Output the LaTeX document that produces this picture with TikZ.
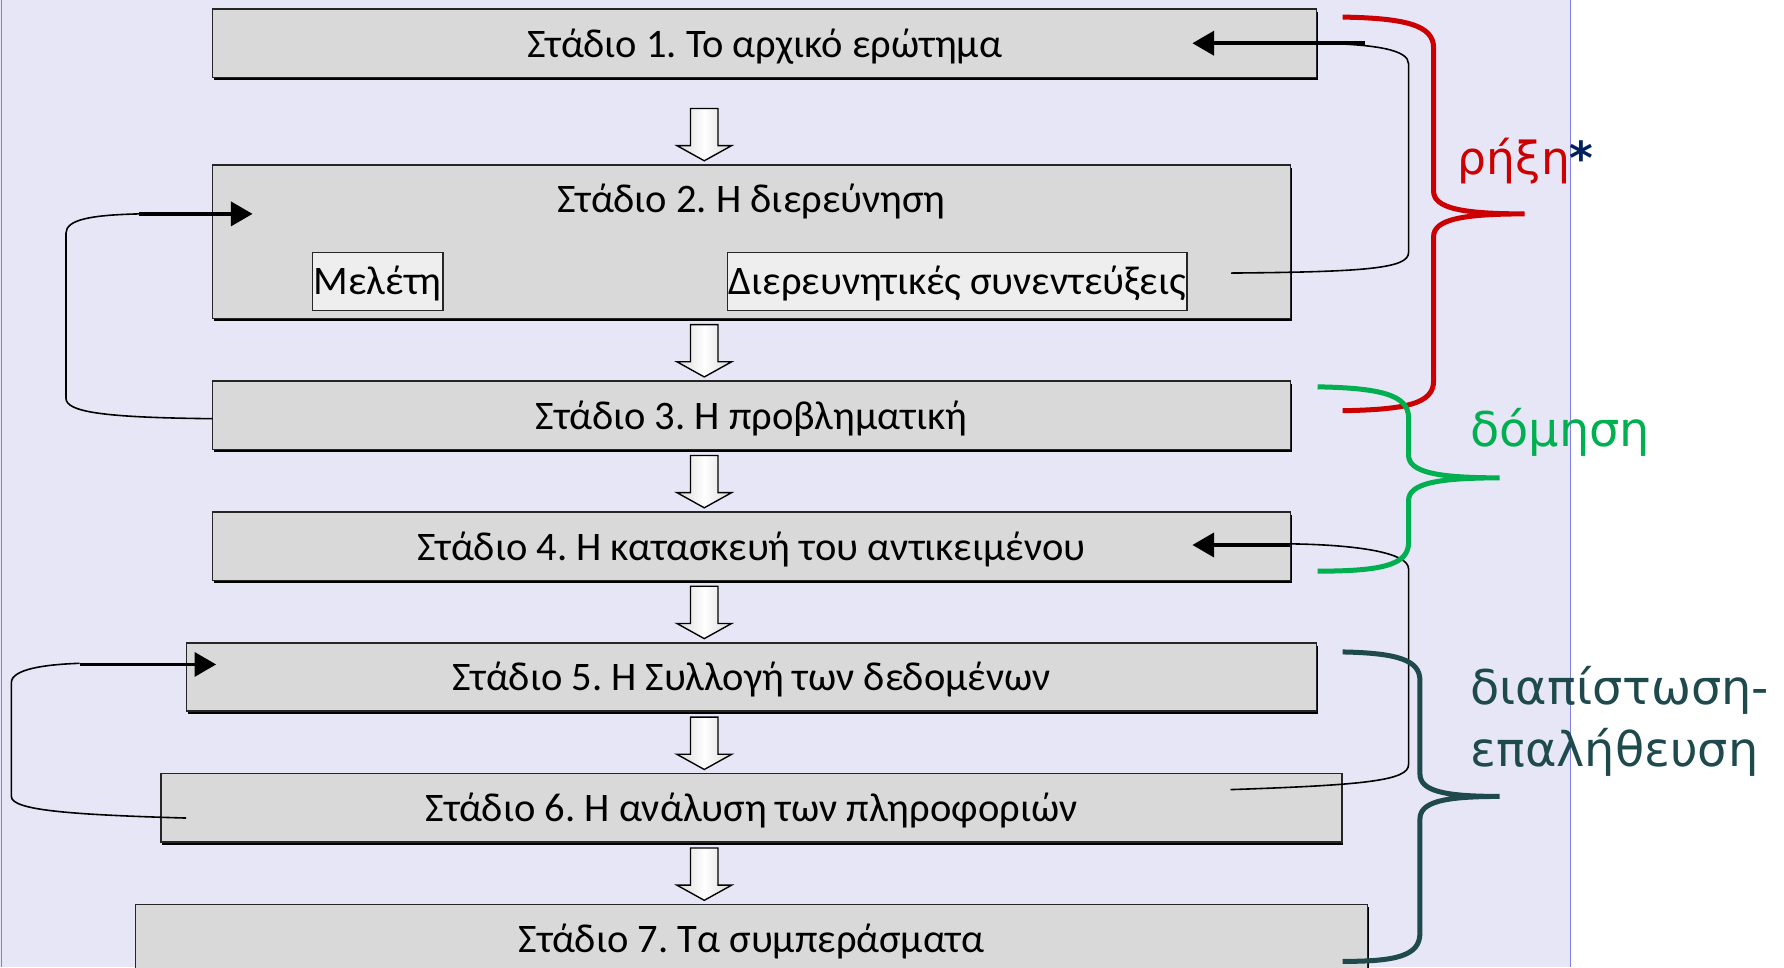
\documentclass[tikz,border=0pt]{standalone}
\usepackage{fontspec}
\setmainfont{Carlito}
\newfontfamily\labelfont{DejaVu Sans}
\usetikzlibrary{positioning,shapes.arrows,shadows,calc,arrows.meta}
\frenchspacing

\definecolor{lavbg}{RGB}{230,230,246}
\definecolor{lavline}{RGB}{128,128,224}
\definecolor{boxgray}{RGB}{217,217,217}
\definecolor{subgray}{RGB}{238,238,238}
\definecolor{rhxred}{RGB}{204,0,0}
\definecolor{domgreen}{RGB}{0,176,80}
\definecolor{diateal}{RGB}{30,74,77}
\definecolor{starblue}{RGB}{0,32,96}

\begin{document}
\begin{tikzpicture}[x=0.5pt,y=-0.5pt,node distance=27.5pt,
    every node/.style={font=\fontsize{17.8}{20}\selectfont},
    stage/.style={draw=black!85,line width=0.6pt,fill=boxgray,minimum height=30pt,inner sep=0pt,outer sep=0pt,
      text height=15pt,text depth=2.8pt,
      drop shadow={shadow xshift=0.6pt,shadow yshift=-1.2pt,fill=black,opacity=1}},
    subbox/.style={draw=black!85,line width=0.6pt,fill=subgray,minimum height=25.5pt,inner xsep=0.6pt,inner ysep=1pt,
      text height=14pt,text depth=3pt},
    downarr/.style={single arrow,draw=black,line width=0.6pt,shape border rotate=270,
      minimum height=23pt,inner sep=5.75pt,single arrow head extend=6pt,
      single arrow head indent=0pt,single arrow tip angle=122,left color=gray!30,right color=gray!30,
      middle color=white,anchor=tip},
    backline/.style={line width=0.7pt},
    feed/.style={line width=1.7pt,-{Triangle[length=9.5pt,width=10.5pt]}},
    bracepath/.style={line width=2.2pt},
    lbl/.style={font=\labelfont\fontsize{21}{27.5}\selectfont,anchor=west,align=left,inner sep=0pt}]

  % background
  \useasboundingbox (0,0) rectangle (1568,850);
  \fill[lavbg] (0,0) rectangle (1380,850);
  \draw[lavline,line width=0.5pt] (1,0) -- (1,850);
  \draw[lavline,line width=0.5pt] (1380,0) -- (1380,850);

  % stages
  \node[stage,minimum width=485pt] (b1) at (672,38) {Στάδιο 1. Το αρχικό ερώτημα};
  \node[stage,minimum width=473.5pt,minimum height=67.5pt,below=38.5pt of b1,xshift=-5.75pt] (b2) {};
  \node[text height=15pt,text depth=2.8pt,inner sep=0pt] (b2t) at ([yshift=-15pt]b2.north) {Στάδιο 2. Η διερεύνηση};
  \node[subbox] (mel) at ($(b2.south west)+(72.5pt,16.25pt)$) {Μελέτη};
  \node[subbox,anchor=east] (dia) at ($(b2.south east)+(-45pt,16.25pt)$) {Διερευνητικές συνεντεύξεις};
  \node[stage,minimum width=473.5pt,below=of b2] (b3) {Στάδιο 3. Η προβληματική};
  \node[stage,minimum width=473.5pt,below=of b3] (b4) {Στάδιο 4. Η κατασκευή του αντικειμένου};
  \node[stage,minimum width=496.5pt,below=of b4] (b5) {Στάδιο 5. Η Συλλογή των δεδομένων};
  \node[stage,minimum width=519pt,below=of b5] (b6) {Στάδιο 6. Η ανάλυση των πληροφοριών};
  \node[stage,minimum width=541.5pt,below=of b6] (b7) {Στάδιο 7. Τα συμπεράσματα};

  % arrows between stages
  \foreach \n in {2,...,7}
    \node[downarr] (d\n) at ([xshift=-20.75pt,yshift=1.5pt]b\n.north) {};

  % feedback loops
  \draw[backline] ([xshift=19pt,yshift=3.75pt]dia.east) .. controls (1200,239) and (1238,236) .. (1238,222)
    -- (1238,56) .. controls (1238,44) and (1210,39) .. (1160,38);
  \draw[feed] ([xshift=21.5pt]b1.east) -- ([xshift=-54.5pt]b1.east);

  \draw[backline] ([yshift=-1.5pt]b3.west) .. controls (90,367) and (58,362) .. (58,350)
    -- (58,205) .. controls (58,193) and (80,189) .. (122,188);
  \draw[feed] ([xshift=-32.5pt,yshift=12.25pt]b2.west) -- ([xshift=17.5pt,yshift=12.25pt]b2.west);

  \draw[backline] ([xshift=-49pt,yshift=8pt]b6.east) .. controls (1200,690) and (1238,686) .. (1238,672)
    -- (1238,500) .. controls (1238,487) and (1200,479) .. (1134,478);
  \draw[feed] ([yshift=0.5pt]b4.east) -- ([xshift=-43pt,yshift=0.5pt]b4.east);

  \draw[backline] ([xshift=11pt,yshift=-4.5pt]b6.west) .. controls (60,716) and (10,712) .. (10,700)
    -- (10,600) .. controls (10,588) and (40,584) .. (70,583);
  \draw[feed] ([xshift=-47pt,yshift=5.5pt]b5.west) -- ([xshift=13pt,yshift=5.5pt]b5.west);

  % braces
  \draw[bracepath,rhxred] (1180,15) .. controls (1235,16) and (1260,22) .. (1260,42) -- (1260,168)
    .. controls (1260,183) and (1285,188) .. (1340,188) .. controls (1285,188) and (1260,193) .. (1260,208)
    -- (1260,335) .. controls (1260,355) and (1235,360) .. (1180,361);
  \draw[bracepath,domgreen] (1158,340) .. controls (1213,341) and (1238,347) .. (1238,367) -- (1238,400)
    .. controls (1238,415) and (1263,420) .. (1318,420) .. controls (1263,420) and (1238,425) .. (1238,440)
    -- (1238,477) .. controls (1238,497) and (1213,502) .. (1158,502);
  \draw[bracepath,diateal] (1180,573) .. controls (1228,574) and (1248,580) .. (1248,598) -- (1248,680)
    .. controls (1248,695) and (1268,700) .. (1318,700) .. controls (1268,700) and (1248,705) .. (1248,720)
    -- (1248,820) .. controls (1248,840) and (1228,845) .. (1180,845);

  % labels
  \node[lbl,text=rhxred,font=\labelfont\fontsize{20}{24}\selectfont] (rh) at (1281,142) {ρήξη\textcolor{starblue}{\bfseries*}};
  \node[lbl,text=domgreen] (dom) at (1292,380) {δόμηση};
  \node[lbl,text=diateal] (dia2) at (1292,634) {διαπίστωση-\\επαλήθευση};
\end{tikzpicture}
\end{document}
